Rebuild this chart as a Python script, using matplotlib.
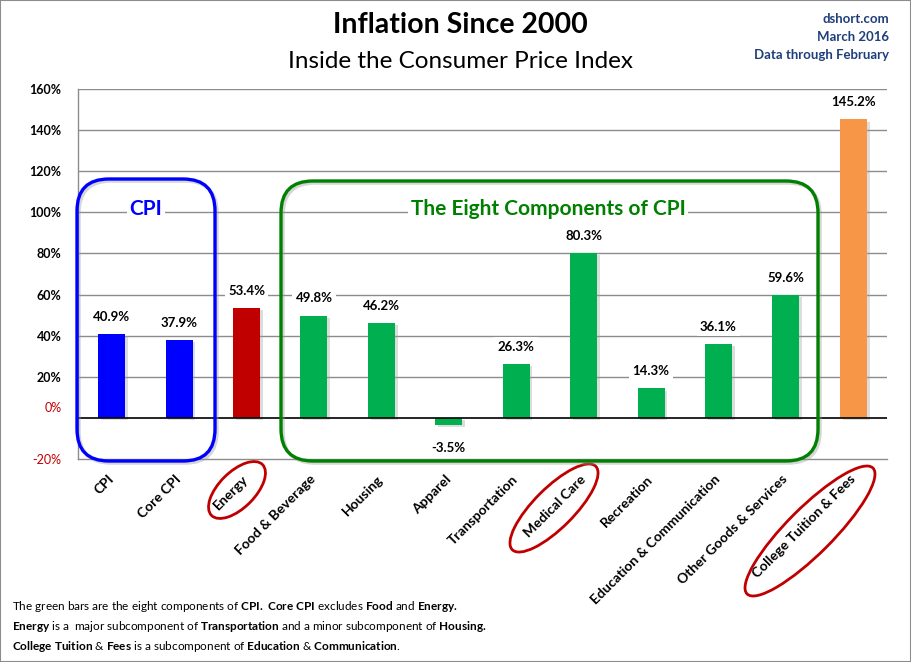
import matplotlib
matplotlib.use("Agg")
import matplotlib.pyplot as plt
import matplotlib.patheffects as pe
from matplotlib.patches import FancyBboxPatch, Ellipse, Rectangle
from matplotlib.transforms import ScaledTranslation

# ================= Data ================= #
categories = ["CPI", "Core CPI", "Energy", "Food & Beverage", "Housing", "Apparel",
              "Transportation", "Medical Care", "Recreation",
              "Education & Communication", "Other Goods & Services",
              "College Tuition & Fees"]
values = [40.9, 37.9, 53.4, 49.8, 46.2, -3.5, 26.3, 80.3, 14.3, 36.1, 59.6, 145.2]
bar_colors = ["#0000FF", "#0000FF", "#C00000"] + ["#00B050"] * 8 + ["#F79646"]
yticks = [-20, 0, 20, 40, 60, 80, 100, 120, 140, 160]
circled = ["Energy", "Medical Care", "College Tuition & Fees"]

footer = [
    [("The green bars are the eight components of ", False), ("CPI. Core CPI", True),
     (" excludes ", False), ("Food", True), (" and ", False), ("Energy.", True)],
    [("Energy", True), (" is a  major subcomponent of ", False), ("Transportation", True),
     (" and a minor subcomponent of ", False), ("Housing.", True)],
    [("College Tuition & Fees", True), (" is a subcomponent of ", False),
     ("Education & Communication", True), (".", False)],
]

# ================= Figure ================= #
plt.rcParams["font.family"] = ["Lato", "DejaVu Sans"]
plt.rcParams["mathtext.fontset"] = "custom"
plt.rcParams["mathtext.rm"] = "Lato"
plt.rcParams["mathtext.bf"] = "Lato:bold"
W, H = 911, 662
fig = plt.figure(figsize=(W / 100, H / 100), dpi=100)
fig.patches.append(Rectangle((0, 0), 1, 1, transform=fig.transFigure, fill=False,
                             edgecolor="#8C8C8C", lw=1.5))

def px(x, y):
    # pixel position (from top-left) -> figure fraction
    return x / W, 1 - y / H

ax = fig.add_axes([78 / W, 1 - 459 / H, (887 - 78) / W, (459 - 89) / H])
x = list(range(len(categories)))
shadow = [pe.SimplePatchShadow(offset=(2, -1.5), shadow_rgbFace="#a0a0a0", alpha=0.35), pe.Normal()]
bars = ax.bar(x, values, width=0.4, color=bar_colors, zorder=3)
for b in bars:
    b.set_path_effects(shadow)

ax.set_xlim(-0.5, len(categories) - 0.5)
ax.set_ylim(-20, 160)
for yv in yticks[2:]:
    ax.axhline(yv, color="#8C8C8C", lw=1, zorder=1)
ax.axhline(0, color="black", lw=1.2, zorder=4)
for s in ["top", "right"]:
    ax.spines[s].set_visible(False)
for s in ["left", "bottom"]:
    ax.spines[s].set_color("#8C8C8C")
    ax.spines[s].set_linewidth(1)

ax.set_yticks(yticks)
ax.set_yticklabels(["%d%%" % v for v in yticks], fontsize=9, fontweight="bold")
ax.tick_params(axis="y", length=0, pad=12)
for lab, v in zip(ax.get_yticklabels(), yticks):
    if v <= 0:
        lab.set_color("#C00000")
        lab.set_fontweight("normal")
    if v == 0:
        lab.set_transform(lab.get_transform() + ScaledTranslation(0, 0.11, fig.dpi_scale_trans))

ax.set_xticks(x)
ax.set_xticklabels(categories, rotation=45, ha="right", va="center",
                   rotation_mode="anchor", fontsize=10, fontweight="bold")
ax.tick_params(axis="x", length=0, pad=13)

# Value labels
for xi, v in zip(x, values):
    off = 8 if v >= 0 else -12
    ax.annotate("%.1f%%" % v, (xi, v), xytext=(0, off), textcoords="offset points",
                ha="center", va="bottom" if v >= 0 else "top", fontsize=9.5,
                fontweight="bold", zorder=5,
                bbox=dict(boxstyle="square,pad=0.25", fc="white", ec="none"))

# Group boxes
box_shadow = [pe.SimpleLineShadow(offset=(1.5, -1.5), shadow_color="#999999", alpha=0.4), pe.Normal()]
def group_box(x0, y0, x1, y1, color):
    fx0, fy1 = px(x0, y0)
    fx1, fy0 = px(x1, y1)
    p = FancyBboxPatch((fx0, fy0), fx1 - fx0, fy1 - fy0,
                       boxstyle="round,pad=0,rounding_size=0.035",
                       transform=fig.transFigure, fill=False, edgecolor=color,
                       lw=2.4, zorder=6, mutation_aspect=W / H)
    p.set_path_effects(box_shadow)
    fig.patches.append(p)

group_box(77, 179, 215, 461, "#0000FF")
group_box(281, 181, 818, 461, "#008000")
fig.text(*px(146, 209), "CPI", color="#0000FF", fontsize=15, fontweight="bold",
         ha="center", va="center", zorder=7,
         bbox=dict(boxstyle="square,pad=0.1", fc="white", ec="none"))
fig.text(*px(548, 209), "The Eight Components of CPI", color="#008000", fontsize=15,
         fontweight="bold", ha="center", va="center", zorder=7,
         bbox=dict(boxstyle="square,pad=0.1", fc="white", ec="none"))

# Red ellipses around some category labels (drawn in inches)
ell_spec = {"Energy": (237, 490, 72, 36), "Medical Care": (554, 508, 118, 40),
            "College Tuition & Fees": (810, 531, 178, 46)}
for name in circled:
    cx, cy, w, h = ell_spec[name]
    e = Ellipse((cx / 100, (H - cy) / 100), w / 100, h / 100, angle=45,
                transform=fig.dpi_scale_trans, fill=False, edgecolor="#C00000", lw=2)
    fig.patches.append(e)

# Titles
fig.text(*px(460, 25), "Inflation Since 2000", fontsize=20.5, fontweight="bold",
         ha="center", va="center")
fig.text(*px(460, 61), "Inside the Consumer Price Index", fontsize=17.5,
         ha="center", va="center")
for i, line in enumerate(["dshort.com", "March 2016", "Data through February"]):
    fig.text(*px(889, 19 + 18 * i), line, fontsize=9.5, fontweight="bold",
             color="#1F3F7A", ha="right", va="center")

# Footer with mixed weights -> one mathtext string per line
def to_math(s, bold):
    if not bold:
        return s
    # '&' is kept outside math mode (mathtext has no \&)
    chunks = [r"$\mathbf{" + c.strip().replace(" ", r"\;") + "}$" for c in s.split("&")]
    return " & ".join(chunks)

for i, parts in enumerate(footer):
    line = "".join(to_math(s, b) for s, b in parts)
    fig.text(*px(12, 607 + 20 * i), line, fontsize=8.5, ha="left", va="center")

fig.savefig("out.png", dpi=100)
